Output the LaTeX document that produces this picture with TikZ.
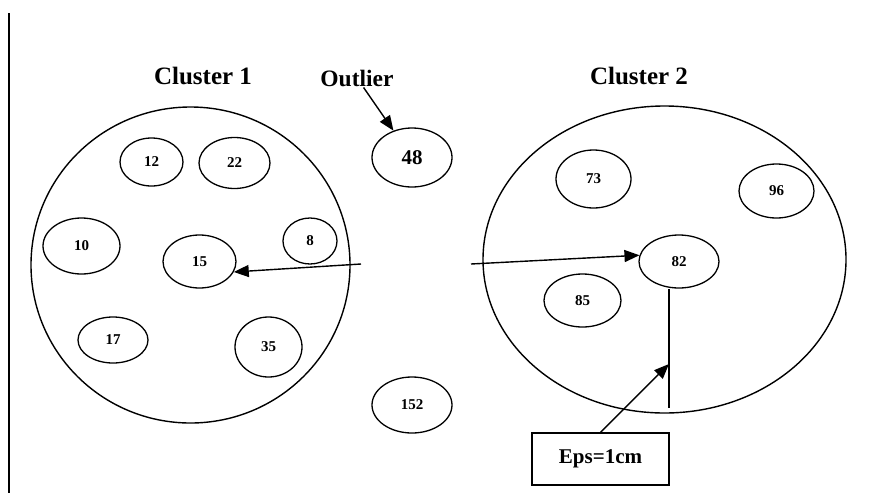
\documentclass[tikz,border=0pt]{standalone}
\usepackage{fontspec}
\setmainfont{Liberation Serif}
\usetikzlibrary{arrows.meta,shapes.geometric}
\tikzset{
  line/.style={-{Triangle[length=15pt,width=12pt]}, line width=1.4pt},
  plain/.style={line width=1.4pt},
  dims/.style 2 args={minimum width=#1pt, minimum height=#2pt},
  cluster/.style={draw, ellipse, line width=1.4pt, inner sep=0pt},
  point/.style={draw, ellipse, line width=1.3pt, inner sep=0pt, font=\bfseries\fontsize{15}{18}\selectfont},
  title/.style={font=\bfseries\fontsize{25}{30}\selectfont, inner sep=1pt},
  epsbox/.style={draw, line width=1.4pt, minimum width=137pt, minimum height=52pt, font=\bfseries\fontsize{21}{25}\selectfont}
}

\begin{document}
\begin{tikzpicture}[x=1pt, y=-1pt]
  \useasboundingbox (0,0) rectangle (869,493);

  % left margin rule
  \coordinate (ltop) at (9,13);
  \coordinate (lbot) at (9,493);
  \draw[plain] (ltop) -- (lbot);

  % titles
  \node[title] (t1) at (203,76) {Cluster 1};
  \node[title, font=\bfseries\fontsize{23.5}{28}\selectfont] (tout) at (357,78) {Outlier};
  \node[title] (t2) at (639,76) {Cluster 2};

  % the two clusters
  \node[cluster, dims={319}{316}] (c1) at (190.5,265) {};
  \node[cluster, dims={363}{307}] (c2) at (664.5,259.5) {};

  % points of cluster 1
  \node[point, dims={63}{48}] (p12) at (151.5,162) {12};
  \node[point, dims={71}{51}] (p22) at (234.5,163) {22};
  \node[point, dims={77}{56}] (p10) at (81.5,246) {10};
  \node[point, dims={54}{46}] (p8) at (310,241) {8};
  \node[point, dims={73}{53}] (p15) at (199.5,261.5) {15};
  \node[point, dims={70}{46}] (p17) at (113,340) {17};
  \node[point, dims={67}{60}] (p35) at (268.5,347) {35};

  % points outside
  \node[point, dims={80}{59}, font=\bfseries\fontsize{21}{25}\selectfont] (p48) at (412,157.5) {48};
  \node[point, dims={80}{56}] (p152) at (412,405) {152};

  % points of cluster 2
  \node[point, dims={75}{58}] (p73) at (593.5,179) {73};
  \node[point, dims={75}{54}] (p96) at (776.5,191) {96};
  \node[point, dims={80}{53}] (p82) at (679,261.5) {82};
  \node[point, dims={77}{53}] (p85) at (582.5,300.5) {85};

  % eps radius and its box
  \node[epsbox] (eps) at (600.5,459) {Eps=1cm};
  \coordinate (rbot) at (669,408);
  \coordinate (rmid) at (669,364);
  \draw[plain] (p82.south -| rbot) -- (rbot);

  % arrows
  \coordinate (a1) at (361,264);
  \coordinate (a2) at (471,264);
  \draw[line] (tout) -- (p48);
  \draw[line] (a1) -- (p15.-17);
  \draw[line] (a2) -- (p82.171);
  \draw[line] (eps.north) -- (rmid);
\end{tikzpicture}
\end{document}
